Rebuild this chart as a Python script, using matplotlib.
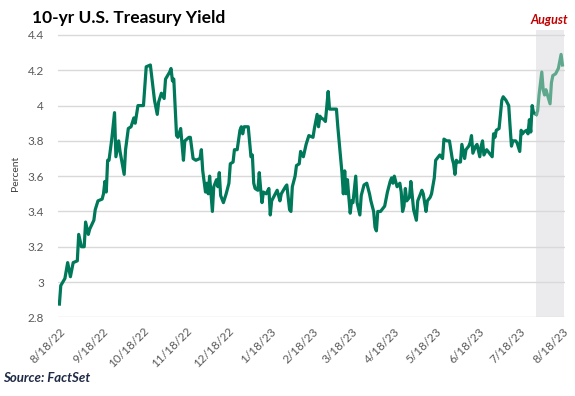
import numpy as np
import pandas as pd
import matplotlib
matplotlib.use("Agg")
import matplotlib.pyplot as plt

# days since 8/18/22 and 10-yr yield (%)
start_date = "2022-08-18"
day_offsets = [
    0, 1, 4, 6, 8, 10, 13, 14, 16, 18, 19, 21, 22, 25, 26, 28, 31, 32, 33, 34,
    35, 36, 38, 40, 41, 43, 44, 47, 48, 50, 52, 54, 55, 57, 60, 61, 63, 66, 69, 71,
    72, 74, 76, 77, 80, 81, 82, 83, 85, 86, 88, 90, 91, 94, 95, 97, 99, 102, 103, 104,
    106, 107, 108, 109, 111, 112, 114, 115, 116, 117, 119, 121, 123, 124, 126, 127, 129, 131, 132, 133,
    134, 137, 139, 140, 141, 142, 144, 145, 146, 147, 148, 150, 152, 153, 154, 156, 158, 160, 161, 164,
    165, 167, 168, 169, 171, 172, 174, 175, 177, 179, 181, 184, 185, 187, 188, 189, 190, 192, 193, 195,
    196, 198, 199, 201, 202, 204, 205, 206, 207, 208, 209, 210, 211, 212, 213, 215, 216, 218, 219, 221,
    223, 225, 226, 228, 229, 230, 231, 233, 235, 236, 238, 240, 241, 242, 243, 245, 247, 248, 249, 250,
    251, 252, 254, 255, 257, 259, 260, 263, 264, 266, 267, 269, 270, 272, 273, 275, 276, 278, 279, 281,
    283, 285, 286, 287, 288, 289, 291, 292, 294, 295, 297, 298, 299, 300, 302, 303, 305, 306, 307, 308,
    310, 312, 314, 315, 316, 317, 319, 321, 322, 324, 326, 327, 328, 329, 331, 332, 334, 335, 336, 337,
    339, 340, 341, 342, 343, 344, 346, 347, 348, 350, 351, 352, 353, 356, 357, 358, 360, 362, 364, 365,
]
yields = [
    2.875, 2.98, 3.02, 3.11, 3.03, 3.11, 3.12, 3.27, 3.20, 3.20, 3.34, 3.27, 3.30, 3.35, 3.41, 3.46, 3.47, 3.50, 3.57, 3.51,
    3.69, 3.69, 3.81, 3.96, 3.71, 3.80, 3.74, 3.61, 3.75, 3.87, 3.88, 3.93, 3.90, 4.00, 4.00, 4.00, 4.22, 4.23, 4.03, 3.95,
    4.02, 4.07, 4.04, 4.15, 4.19, 4.21, 4.14, 4.15, 3.83, 3.82, 3.87, 3.69, 3.80, 3.82, 3.82, 3.70, 3.69, 3.70, 3.75, 3.63,
    3.51, 3.56, 3.50, 3.60, 3.40, 3.54, 3.58, 3.54, 3.62, 3.49, 3.45, 3.50, 3.56, 3.67, 3.68, 3.75, 3.75, 3.86, 3.88, 3.84,
    3.88, 3.88, 3.71, 3.72, 3.56, 3.53, 3.52, 3.62, 3.53, 3.45, 3.51, 3.50, 3.53, 3.38, 3.46, 3.49, 3.52, 3.46, 3.50, 3.54,
    3.55, 3.41, 3.40, 3.54, 3.60, 3.66, 3.67, 3.74, 3.71, 3.78, 3.83, 3.82, 3.87, 3.95, 3.88, 3.94, 3.93, 3.92, 3.91, 4.08,
    3.98, 3.98, 3.98, 3.98, 3.88, 3.71, 3.62, 3.50, 3.63, 3.50, 3.58, 3.48, 3.39, 3.46, 3.45, 3.60, 3.45, 3.38, 3.49, 3.55,
    3.56, 3.50, 3.46, 3.40, 3.31, 3.29, 3.40, 3.40, 3.42, 3.43, 3.51, 3.57, 3.59, 3.56, 3.60, 3.54, 3.56, 3.51, 3.40, 3.43,
    3.53, 3.46, 3.48, 3.57, 3.41, 3.35, 3.46, 3.52, 3.50, 3.40, 3.46, 3.48, 3.50, 3.59, 3.69, 3.71, 3.72, 3.70, 3.81, 3.80,
    3.80, 3.70, 3.67, 3.61, 3.69, 3.68, 3.68, 3.78, 3.70, 3.75, 3.77, 3.79, 3.83, 3.73, 3.77, 3.78, 3.71, 3.77, 3.80, 3.72,
    3.75, 3.73, 3.71, 3.84, 3.82, 3.86, 3.87, 4.03, 4.05, 4.03, 4.00, 3.88, 3.77, 3.80, 3.80, 3.79, 3.74, 3.86, 3.84, 3.85,
    3.86, 3.84, 3.92, 3.85, 4.00, 3.96, 3.95, 3.97, 4.06, 4.19, 4.09, 4.06, 4.09, 4.01, 4.13, 4.17, 4.18, 4.21, 4.29, 4.23,
]
tick_labels = ["8/18/22", "9/18/22", "10/18/22", "11/18/22", "12/18/22", "1/18/23", "2/18/23",
               "3/18/23", "4/18/23", "5/18/23", "6/18/23", "7/18/23", "8/18/23"]
y_ticks = [2.8, 3.0, 3.2, 3.4, 3.6, 3.8, 4.0, 4.2, 4.4]
august_start = "2023-07-30"

dates = pd.Timestamp(start_date) + pd.to_timedelta(day_offsets, unit="D")
s = pd.Series(yields, index=dates)
split = pd.Timestamp(august_start)
before = s[s.index <= split]
after = s[s.index >= before.index[-1]]
tick_dates = pd.to_datetime(tick_labels, format="%m/%d/%y")

plt.rcParams["font.family"] = ["Lato", "DejaVu Sans"]

fig = plt.figure(figsize=(5.75, 3.96), dpi=100)
ax = fig.add_axes([0.1009, 0.1987, 0.8817, 0.7263])

ax.axvspan(split, pd.Timestamp("2023-08-19"), color="#ebebee", zorder=0, lw=0)
ax.plot(before.index, before.values, color="#00785a", lw=2.3, zorder=3)
ax.plot(after.index, after.values, color="#5fa88e", lw=2.3, zorder=3)

ax.set_xlim(pd.Timestamp(start_date) - pd.Timedelta(days=1), pd.Timestamp("2023-08-19 20:00"))
ax.set_ylim(2.8, 4.43)
ax.set_yticks(y_ticks)
ax.set_yticklabels([f"{v:g}" for v in y_ticks])
ax.set_xticks(tick_dates)
ax.set_xticklabels(tick_labels, rotation=45, ha="right", rotation_mode="anchor")
ax.grid(axis="y", color="#d9d9d9", lw=1)
ax.set_axisbelow(True)
for sp in ax.spines.values():
    sp.set_visible(False)
ax.tick_params(length=0, colors="#595959", labelsize=8.5)
ax.tick_params(axis="y", pad=10)
ax.tick_params(axis="x", pad=6)
ax.set_ylabel("Percent", fontsize=7.5, color="#404040")
ax.yaxis.set_label_coords(-0.075, 0.5)

fig.text(0.056, 0.975, "10-yr U.S. Treasury Yield", fontsize=12.5, fontweight="bold",
         color="black", va="top")
fig.text(0.988, 0.935, "August", fontsize=9, fontweight="bold", style="italic",
         color="#c00000", ha="right", va="bottom")
fig.text(0.005, 0.03, "Source: FactSet", fontsize=9.5, fontweight="bold", style="italic",
         color="#1f2a44", va="bottom")

fig.savefig("out.png", dpi=100)
